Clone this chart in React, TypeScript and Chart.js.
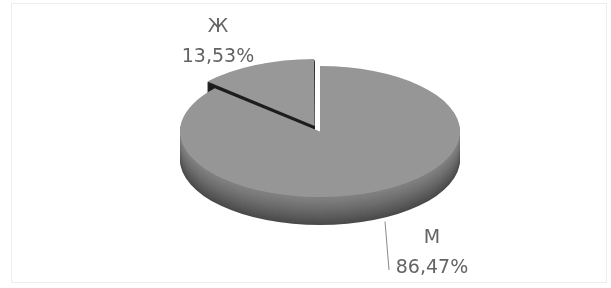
import React, { useEffect, useRef } from 'react';
import { Chart, registerables } from 'chart.js';

Chart.register(...registerables);

// ---- data ----
const CATEGORIES = ['М', 'Ж'];
const VALUES = [86.47, 13.53];
const PERCENT_LABELS = ['86,47%', '13,53%'];

// ---- style / layout ----
const TOP_COLORS = ['#969696', '#989898'];
const EXPLODE = [0, 52]; // chart.js divides arc offset by 4
const PIE_RADIUS = 140;
const CENTER_X = 320;
const CENTER_Y = 131.5;
const TILT = 0.468;
const DEPTH = 28;
// label block centre relative to the pie centre (px)
const LABEL_OFFSETS: [number, number][] = [
  [112, 121.5],
  [-102, -89.5],
];
const LEADER = [true, false];

function lerpColor(a: number[], b: number[], t: number) {
  const c = a.map((v, i) => Math.round(v + (b[i] - v) * t));
  return `rgb(${c[0]},${c[1]},${c[2]})`;
}

const pie3d = {
  id: 'pie3d',
  beforeDraw(chart: any) {
    const ctx = chart.ctx;
    ctx.save();
    ctx.fillStyle = '#ffffff';
    ctx.fillRect(0, 0, chart.width, chart.height);
    ctx.strokeStyle = '#ededed';
    ctx.lineWidth = 1;
    ctx.strokeRect(11.5, 3.5, 595, 279);
    ctx.restore();
  },
  beforeDatasetsDraw(chart: any) {
    const ctx = chart.ctx;
    const meta = chart.getDatasetMeta(0);
    const arcs = meta.data.map((a: any, i: number) => ({ a, i }));
    // back slices first
    arcs.sort((p: any, q: any) => {
      const mp = Math.sin((p.a.startAngle + p.a.endAngle) / 2);
      const mq = Math.sin((q.a.startAngle + q.a.endAngle) / 2);
      return mp - mq;
    });
    let cx = 0;
    let cy = 0;
    for (const { a, i } of arcs) {
      const { x, y, startAngle, endAngle, outerRadius } = a;
      cx = x;
      cy = y;
      const off = (a.options.offset || 0) / 4;
      const half = (startAngle + endAngle) / 2;
      const fix = 1 - Math.sin(Math.min(Math.PI, endAngle - startAngle));
      const R = outerRadius + off * fix;
      for (let d = DEPTH; d >= 1; d--) {
        ctx.save();
        ctx.translate(CENTER_X, CENTER_Y + d);
        ctx.scale(1, TILT);
        ctx.translate(-x, -y);
        ctx.translate(Math.cos(half) * off, Math.sin(half) * off);
        ctx.beginPath();
        ctx.moveTo(x, y);
        ctx.arc(x, y, R, startAngle, endAngle);
        ctx.closePath();
        const t = (d - 1) / (DEPTH - 1);
        ctx.fillStyle =
          i === 0
            ? lerpColor([128, 128, 128], [74, 74, 74], Math.pow(t, 1.2))
            : lerpColor([30, 30, 30], [20, 20, 20], t);
        ctx.fill();
        ctx.restore();
      }
    }
    ctx.save();
    ctx.translate(CENTER_X, CENTER_Y);
    ctx.scale(1, TILT);
    ctx.translate(-cx, -cy);
  },
  afterDatasetsDraw(chart: any) {
    chart.ctx.restore();
  },
  afterDraw(chart: any) {
    const ctx = chart.ctx;
    ctx.save();
    ctx.font = '19px "DejaVu Sans"';
    ctx.fillStyle = '#646464';
    ctx.textAlign = 'center';
    ctx.textBaseline = 'middle';
    const ry = PIE_RADIUS * TILT;
    CATEGORIES.forEach((cat, i) => {
      const lx = CENTER_X + LABEL_OFFSETS[i][0];
      const ly = CENTER_Y + LABEL_OFFSETS[i][1];
      ctx.fillText(cat, lx, ly - 15);
      ctx.fillText(PERCENT_LABELS[i], lx, ly + 15);
      if (LEADER[i]) {
        const sx = lx - 47;
        const u = (sx - CENTER_X) / PIE_RADIUS;
        const sy = CENTER_Y + DEPTH + ry * Math.sqrt(Math.max(0, 1 - u * u)) + 4;
        ctx.strokeStyle = '#8a8a8a';
        ctx.lineWidth = 1;
        ctx.beginPath();
        ctx.moveTo(sx, sy);
        ctx.lineTo(lx - 43, ly + 17);
        ctx.stroke();
      }
    });
    ctx.restore();
  },
};

export default function App() {
  const ref = useRef<HTMLCanvasElement>(null);
  useEffect(() => {
    if (!ref.current) return;
    const chart = new Chart(ref.current, {
      type: 'pie',
      data: {
        labels: CATEGORIES,
        datasets: [
          {
            data: VALUES,
            backgroundColor: TOP_COLORS,
            borderWidth: 0,
            offset: EXPLODE,
            hoverOffset: 0,
            radius: PIE_RADIUS,
            clip: false,
          } as any,
        ],
      },
      options: {
        responsive: false,
        animation: false,
        events: [],
        rotation: 0,
        plugins: {
          legend: { display: false },
          tooltip: { enabled: false },
        },
      } as any,
      plugins: [pie3d],
    });
    return () => chart.destroy();
  }, []);
  return (
    <div style={{ position: 'absolute', left: 0, top: 0, width: 611, height: 288 }}>
      <canvas ref={ref} width={611} height={288} style={{ width: 611, height: 288 }} />
    </div>
  );
}
